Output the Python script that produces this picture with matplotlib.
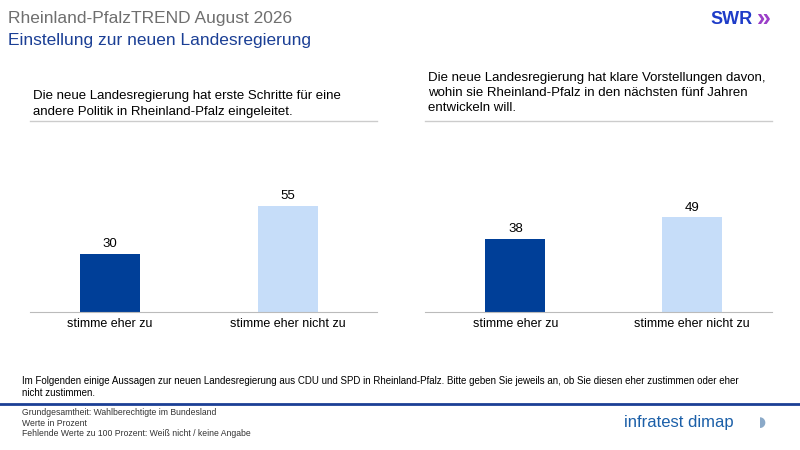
import matplotlib
matplotlib.use("Agg")
import matplotlib.pyplot as plt
from matplotlib.lines import Line2D

categories = ["stimme eher zu", "stimme eher nicht zu"]
left_values = [30, 55]
right_values = [38, 49]
colors = ["#003f98", "#c6ddf9"]
left_q = "Die neue Landesregierung hat erste Schritte für eine\nandere Politik in Rheinland-Pfalz eingeleitet."
right_q = "Die neue Landesregierung hat klare Vorstellungen davon,\nwohin sie Rheinland-Pfalz in den nächsten fünf Jahren\nentwickeln will."

plt.rcParams['font.family'] = ['Liberation Sans', 'DejaVu Sans']
W, H = 800, 450
fig = plt.figure(figsize=(8, 4.5), dpi=100)

def fx(x): return x / W
def fy(y): return 1 - y / H

fig.text(fx(8), fy(18), "Rheinland-PfalzTREND August 2026", fontsize=12.5, color="#6f6f6f", va="center")
fig.text(fx(8), fy(40), "Einstellung zur neuen Landesregierung", fontsize=12.5, color="#1b3f95", va="center")
fig.text(fx(710), fy(20), "SWR", fontsize=13, color="#1e3cc8", fontweight="bold", va="center")
fig.text(fx(757), fy(19), "»", fontsize=18, color="#9b3fc8", fontweight="bold", va="center")

fig.text(fx(33), fy(104), left_q, fontsize=9.5, va="center", linespacing=1.35)
fig.text(fx(428), fy(93), right_q, fontsize=9.5, va="center", linespacing=1.35)
fig.add_artist(Line2D([fx(30), fx(377)], [fy(121), fy(121)], color="#cccccc", lw=1))
fig.add_artist(Line2D([fx(425), fx(772)], [fy(121), fy(121)], color="#cccccc", lw=1))

def panel(x0, x1, vals, sx0, sx1):
    ax = fig.add_axes([fx(x0), fy(312), fx(x1) - fx(x0), (312 - 150) / H])
    ax.bar([0, 1], vals, width=0.34, color=colors)
    ax.set_ylim(0, 162 / 1.93)
    ax.set_xlim(-0.45, 1.5)
    for i, v in enumerate(vals):
        ax.text(i, v + 2, str(v), ha="center", va="bottom", fontsize=9.5)
    ax.set_xticks([0, 1])
    ax.set_xticklabels(categories, fontsize=9)
    ax.tick_params(length=0, pad=4)
    ax.set_yticks([])
    for s in ["top", "left", "right", "bottom"]:
        ax.spines[s].set_visible(False)
    fig.add_artist(Line2D([fx(sx0), fx(sx1)], [fy(312), fy(312)], color="#bbbbbb", lw=0.8))

panel(30, 377, left_values, 30, 377)
panel(436, 780, right_values, 425, 772)

fig.text(fx(22), fy(387), "Im Folgenden einige Aussagen zur neuen Landesregierung aus CDU und SPD in Rheinland-Pfalz. Bitte geben Sie jeweils an, ob Sie diesen eher zustimmen oder eher\nnicht zustimmen.", fontsize=7, va="center", linespacing=1.3)
fig.add_artist(Line2D([0, 1], [fy(404), fy(404)], color="#1b3f95", lw=2))
fig.text(fx(22), fy(423), "Grundgesamtheit: Wahlberechtigte im Bundesland\nWerte in Prozent\nFehlende Werte zu 100 Prozent: Weiß nicht / keine Angabe", fontsize=6.2, va="center", linespacing=1.25, color="#333333")
fig.text(fx(624), fy(423), "infratest dimap", fontsize=12, color="#1b5fa8", va="center")
fig.text(fx(755), fy(423), "◗", fontsize=18, color="#8aa9c8", va="center")

fig.savefig("out.png", dpi=100)
